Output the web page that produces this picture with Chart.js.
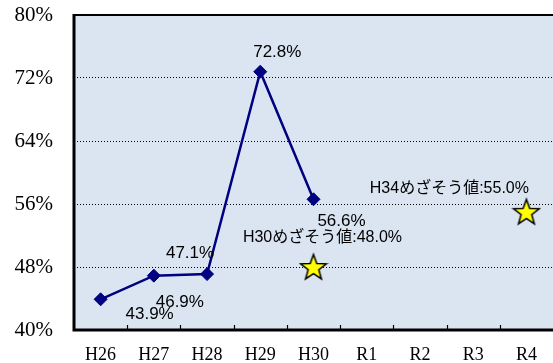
<!DOCTYPE html>
<html lang="ja">
<head>
<meta charset="UTF-8">
<title>めざそう値の推移</title>
<script src="https://cdn.jsdelivr.net/npm/chart.js"></script>
<style>
    html, body { margin: 0; padding: 0; background: #fff; }
    #wrap { width: 553px; height: 363px; }
</style>
</head>
<body>
<div id="wrap"><canvas id="chart"></canvas></div>
<script>
    // data
    const years = ['H26', 'H27', 'H28', 'H29', 'H30', 'R1', 'R2', 'R3', 'R4'];
    const actual = [43.9, 46.9, 47.1, 72.8, 56.6, null, null, null, null];
    const target = [null, null, null, null, 48.0, null, null, null, 55.0];
    const targetNames = ['', '', '', '', 'H30めざそう値', '', '', '', 'H34めざそう値'];

    // where each value label sits relative to its point (px)
    const actualLabelShift = [[49, 15], [26, 27], [-17, -21], [17, -19], [28, 22]];
    const targetLabelShift = { 4: [9, -29], 8: [-77, -23] };

    // yellow star marker
    function makeStar() {
        const c = document.createElement('canvas');
        c.width = 30; c.height = 30;
        const g = c.getContext('2d');
        g.beginPath();
        for (let i = 0; i < 10; i++) {
            const r = i % 2 === 0 ? 13.5 : 5.6;
            const a = -Math.PI / 2 + i * Math.PI / 5;
            const px = 15 + r * Math.cos(a), py = 16 + r * Math.sin(a);
            if (i === 0) g.moveTo(px, py); else g.lineTo(px, py);
        }
        g.closePath();
        g.fillStyle = '#ffff00';
        g.fill();
        g.lineWidth = 1.5;
        g.strokeStyle = '#000';
        g.stroke();
        return c;
    }
    const star = makeStar();

    const framePlugin = {
        id: 'frame',
        beforeDraw(chart) {
            const { ctx, chartArea: a } = chart;
            ctx.save();
            ctx.fillStyle = '#dbe5f1';
            ctx.fillRect(a.left, a.top, a.right - a.left, a.bottom - a.top);
            ctx.restore();
        },
        beforeDatasetsDraw(chart) {
            const { ctx, chartArea: a, scales } = chart;
            const x = scales.x;
            ctx.save();
            ctx.strokeStyle = '#000';
            // top line
            ctx.lineWidth = 2;
            ctx.beginPath();
            ctx.moveTo(a.left, a.top);
            ctx.lineTo(a.right, a.top);
            ctx.stroke();
            // inner tick marks on the category boundaries
            ctx.lineWidth = 1.2;
            const half = (x.getPixelForValue(1) - x.getPixelForValue(0)) / 2;
            for (let i = 0; i < years.length - 1; i++) {
                const px = Math.round(x.getPixelForValue(i) + half) + 0.5;
                ctx.beginPath();
                ctx.moveTo(px, a.bottom);
                ctx.lineTo(px, a.bottom - 5);
                ctx.stroke();
            }
            // axes
            ctx.lineWidth = 3;
            ctx.beginPath();
            ctx.moveTo(a.left, a.top - 1);
            ctx.lineTo(a.left, a.bottom);
            ctx.lineTo(a.right, a.bottom);
            ctx.stroke();
            ctx.restore();
        },
        afterDatasetsDraw(chart) {
            const { ctx, scales } = chart;
            ctx.save();
            ctx.fillStyle = '#000';
            ctx.textAlign = 'center';
            ctx.textBaseline = 'middle';
            ctx.font = '17px "Liberation Sans", Arial, sans-serif';
            actual.forEach((v, i) => {
                if (v == null) return;
                const s = actualLabelShift[i];
                ctx.fillText(v.toFixed(1) + '%',
                    scales.x.getPixelForValue(i) + s[0], scales.y.getPixelForValue(v) + s[1]);
            });
            ctx.font = '16px "Liberation Sans", "Noto Sans CJK JP", sans-serif';
            target.forEach((v, i) => {
                if (v == null) return;
                const s = targetLabelShift[i];
                ctx.fillText(targetNames[i] + ':' + v.toFixed(1) + '%',
                    scales.x.getPixelForValue(i) + s[0], scales.y.getPixelForValue(v) + s[1]);
            });
            ctx.restore();
        }
    };

    new Chart(document.getElementById('chart'), {
        type: 'line',
        data: {
            labels: years,
            datasets: [{
                data: actual,
                borderColor: '#000080',
                backgroundColor: '#000080',
                borderWidth: 2.5,
                pointStyle: 'rectRot',
                pointRadius: 6.5,
                pointBorderWidth: 1,
                spanGaps: false
            }, {
                data: target,
                showLine: false,
                pointStyle: star,
                pointRadius: 14
            }]
        },
        options: {
            responsive: true,
            maintainAspectRatio: false,
            animation: false,
            layout: { autoPadding: false, padding: { left: 0, right: 0, top: 15, bottom: 0 } },
            plugins: {
                legend: { display: false },
                tooltip: { enabled: false }
            },
            scales: {
                x: {
                    offset: true,
                    grid: { display: false },
                    border: { display: false },
                    afterFit: s => { s.height = 33; s.paddingLeft = 0; s.paddingRight = 0; },
                    ticks: {
                        color: '#000',
                        padding: 6,
                        maxRotation: 0,
                        font: { family: '"Liberation Serif", "Times New Roman", serif', size: 18 }
                    }
                },
                y: {
                    min: 40,
                    max: 80,
                    border: { display: false, dash: [1, 2] },
                    afterFit: s => { s.width = 74; s.paddingTop = 0; s.paddingBottom = 0; },
                    grid: {
                        drawTicks: false,
                        lineWidth: 1,
                        color: ctx => (ctx.tick && (ctx.tick.value === 40 || ctx.tick.value === 80)) ? 'rgba(0,0,0,0)' : '#000'
                    },
                    ticks: {
                        stepSize: 8,
                        color: '#000',
                        padding: 21,
                        callback: v => v + '%',
                        font: { family: '"Liberation Serif", "Times New Roman", serif', size: 21 }
                    }
                }
            }
        },
        plugins: [framePlugin]
    });
</script>
</body>
</html>
